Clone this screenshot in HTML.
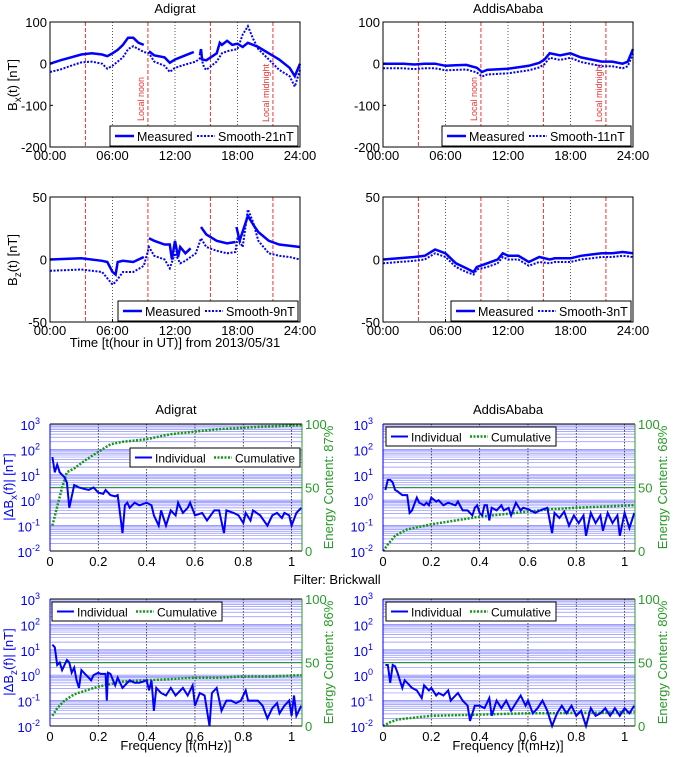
<!DOCTYPE html>
<html><head><meta charset="utf-8"><style>
html,body{margin:0;padding:0;background:#fff;}
svg{display:block;font-family:"Liberation Sans",sans-serif;}
</style></head><body>
<svg id="fig" width="675" height="757" viewBox="0 0 675 757" xmlns="http://www.w3.org/2000/svg"></svg>
<script>
// ---------- Time-series data ----------
const adgBxT = [0,1,2,3,4,5,5.5,6,6.5,7,7.5,8,8.5,9,NaN,9.5,10,11,11.5,12,13,13.8,NaN,14.4,14.5,14.6,15,16,16.3,16.5,17,17.5,18,18.5,19,19.5,20,21,22,23,23.5,24];
const adgBxM = [0,8,15,22,25,22,18,25,33,45,62,62,50,45,NaN,30,20,15,2,10,20,28,NaN,20,35,10,8,25,50,45,55,45,48,40,50,45,40,25,10,-10,-30,0];
const adgBxST = [0,1,2,3,4,5,5.5,6,7,7.5,8,9,9.5,10,11,11.5,12,13,14,14.5,14.8,15,16,16.5,17,18,18.5,19,19.5,20,21,22,23,23.5,24];
const adgBxS = [-20,-14,-5,3,5,0,-12,-5,15,35,42,28,25,5,-5,-20,-10,-2,5,15,-10,-15,5,25,30,35,70,90,60,35,10,-15,-30,-55,-15];

const adgBzT = [0,3,5,5.5,6,6.3,6.5,7,8,9,NaN,9.5,10,11,11.5,11.7,12,12.3,12.5,13,13.5,NaN,14.5,15,16,17,17.8,NaN,17.9,18.2,19,19.5,20,21,22,23,24];
const adgBzM = [0,1,-1,-2,-10,-12,-2,-1,-2,2,NaN,17,15,12,12,0,15,2,10,5,9,NaN,26,20,15,13,14,NaN,26,15,35,28,22,15,12,11,10];
const adgBzST = [0,3,5,6,6.3,7,8,9,9.5,10,11,11.5,12,12.5,13,14,14.5,15,16,17,17.8,18,18.5,19,19.5,20,21,22,23,24];
const adgBzS = [-9,-8,-10,-20,-18,-10,-10,-5,10,3,0,-7,5,-3,-1,5,17,10,7,5,6,18,10,40,30,15,5,3,2,0];

const addBxT = [0,2,3,4,5,6,7,8,9,9.5,10,12,14,15,15.5,16,17,18,19,20,21,22,23,23.5,24];
const addBxM = [0,0,-2,0,0,-5,-4,-3,-10,-20,-15,-12,-5,2,10,25,20,25,15,10,5,5,0,5,35];
const addBxS = [-11,-11,-13,-11,-11,-16,-15,-14,-21,-31,-26,-23,-16,-9,-1,14,9,14,4,-1,-6,-6,-11,-6,24];

const addBzT = [0,3,4,5,6,7,8,8.7,9,10,11,11.5,12,13,14,15,16,16.5,18,19,20,21,22,23,24];
const addBzM = [0,2,3,8,5,-3,-7,-10,-6,-3,0,5,3,3,-2,2,0,1,1,3,4,5,5,6,5];
const addBzS = [-3,-1,0,5,2,-6,-10,-12,-8,-6,-3,2,0,0,-5,-2,-3,-2,-2,0,1,2,2,3,2];

const timeTicks = [0,6,12,18,24];
const timeTickLabels = ["00:00","06:00","12:00","18:00","24:00"];
const bxTicks = [-200,-100,0,100];
const bzTicks = [-50,0,50];
const localLines = [3.4,9.4,15.4,21.4];
const hourLines = [6,12,18];

// ---------- Spectra data ----------
const adgXf = [0.01,0.02,0.03,0.04,0.05,0.06,0.07,0.08,0.1,0.12,0.14,0.16,0.18,0.2,0.22,0.23,0.25,0.27,0.28,0.3,0.31,0.32,0.33,0.35,0.37,0.4,0.42,0.43,0.45,0.46,0.48,0.5,0.52,0.53,0.55,0.57,0.58,0.6,0.63,0.65,0.68,0.7,0.72,0.73,0.76,0.78,0.8,0.81,0.83,0.84,0.87,0.9,0.92,0.94,0.96,0.97,0.99,1.0,1.02,1.04];
const adgXv = [1.7,1.1,1.4,1.1,1.0,0.9,0.7,-0.3,0.6,0.5,0.45,0.4,0.5,0.3,0.25,0.4,0.2,0.15,0.2,-1.3,-0.2,-0.1,-0.3,-0.1,-0.2,-0.1,-0.2,-0.6,-1.0,-0.4,-1.0,-0.4,-0.6,-0.1,-0.5,-0.3,-0.1,-0.6,-0.5,-0.8,-0.4,-0.4,-1.3,-0.4,-0.5,-0.6,-0.9,-0.5,-0.8,-0.4,-0.6,-1.0,-0.6,-0.5,-0.7,-0.5,-0.6,-1.0,-0.5,-0.3];
const adgXcf = [0.01,0.03,0.05,0.07,0.1,0.15,0.2,0.25,0.3,0.4,0.5,0.6,0.7,0.8,0.9,1.04];
const adgXc = [20,35,50,62,65,72,78,84,86,88,92,94,96,97,98,99];

const addXf = [0.01,0.02,0.03,0.04,0.05,0.06,0.08,0.1,0.11,0.12,0.14,0.15,0.17,0.18,0.19,0.2,0.22,0.23,0.25,0.27,0.3,0.31,0.33,0.35,0.37,0.38,0.39,0.4,0.41,0.42,0.43,0.44,0.45,0.47,0.49,0.5,0.52,0.53,0.55,0.57,0.58,0.6,0.63,0.65,0.68,0.7,0.71,0.73,0.75,0.77,0.79,0.81,0.83,0.84,0.86,0.88,0.9,0.91,0.93,0.95,0.97,0.98,1.0,1.02,1.04];
const addXv = [0.4,0.8,0.8,0.7,0.4,0.35,0.2,0.2,-0.5,-0.4,0.1,-0.1,-0.2,-0.1,-0.2,0.1,-0.05,0.0,-0.2,-0.1,-0.2,-0.05,-0.4,-0.4,-0.6,-0.3,-0.2,-0.5,-0.6,-0.2,-0.2,-0.8,-0.3,-0.4,-0.2,-0.4,-0.3,-0.6,-0.1,-0.4,-0.3,-0.35,-0.5,-0.4,-0.3,-1.3,-0.5,-0.7,-0.45,-1.0,-0.6,-0.9,-0.6,-1.4,-0.5,-0.9,-0.6,-1.2,-0.5,-0.9,-0.6,-1.4,-0.5,-1.1,-0.5];
const addXcf = [0,0.02,0.05,0.1,0.15,0.2,0.3,0.4,0.5,0.6,0.7,0.8,0.9,1.04];
const addXc = [0,5,12,17,19,21,24,27,29,31,33,34,35,36];

const adgZf = [0.01,0.02,0.03,0.04,0.05,0.06,0.07,0.08,0.09,0.1,0.11,0.12,0.13,0.14,0.16,0.17,0.18,0.2,0.21,0.23,0.235,0.24,0.25,0.27,0.28,0.3,0.32,0.33,0.35,0.37,0.4,0.41,0.42,0.43,0.44,0.46,0.48,0.5,0.52,0.55,0.57,0.59,0.6,0.62,0.64,0.66,0.67,0.69,0.71,0.73,0.75,0.77,0.79,0.81,0.82,0.84,0.86,0.88,0.9,0.92,0.94,0.95,0.97,0.99,1.0,1.01,1.02,1.04];
const adgZv = [1.2,1.1,0.4,0.5,0.2,0.4,0.6,0.5,0.1,0.3,-0.2,-0.5,0.2,0.1,-0.1,-0.2,0.0,0.1,0.05,0.05,-1.0,0.1,0.05,-0.4,-0.1,-0.5,-0.3,-0.2,-0.3,-0.3,-0.2,-0.6,-0.2,-1.4,-0.5,-0.7,-0.8,-0.5,-0.8,-0.5,-0.8,-0.4,-1.2,-0.7,-0.8,-2.0,-0.7,-0.5,-1.4,-1.0,-1.0,-1.1,-1.0,-0.6,-1.0,-1.0,-1.0,-1.2,-1.7,-1.3,-1.1,-1.5,-1.2,-1.0,-1.6,-0.8,-1.6,-1.2];
const adgZcf = [0.01,0.03,0.06,0.1,0.15,0.2,0.25,0.3,0.4,0.5,0.6,0.7,0.8,0.9,1.04];
const adgZc = [8,14,20,25,28,31,33,35,36,37,38,38,39,39,40];

const addZf = [0.01,0.02,0.03,0.04,0.05,0.06,0.08,0.09,0.1,0.12,0.14,0.16,0.17,0.19,0.2,0.22,0.23,0.25,0.27,0.28,0.3,0.31,0.33,0.35,0.36,0.38,0.4,0.42,0.44,0.45,0.47,0.49,0.51,0.53,0.55,0.57,0.59,0.6,0.62,0.64,0.66,0.68,0.7,0.72,0.74,0.76,0.78,0.8,0.82,0.84,0.86,0.88,0.9,0.92,0.94,0.96,0.98,1.0,1.02,1.04];
const addZv = [0.4,0.4,-0.3,0.4,0.35,0.1,-0.5,-0.2,-0.3,-0.5,-0.6,-0.9,-0.4,-0.6,-0.5,-0.8,-0.7,-0.8,-0.6,-1.0,-0.8,-0.7,-1.0,-1.2,-1.8,-1.2,-1.2,-1.3,-0.9,-1.6,-1.0,-1.3,-1.0,-1.4,-1.1,-0.8,-1.2,-1.0,-1.5,-1.3,-1.0,-1.4,-2.0,-1.5,-1.2,-1.5,-1.2,-1.6,-1.4,-2.0,-1.3,-1.6,-1.5,-1.3,-1.6,-1.3,-1.6,-1.3,-1.5,-1.2];
const addZcf = [0,0.03,0.06,0.1,0.15,0.2,0.3,0.4,0.5,0.6,0.7,0.8,0.9,1.04];
const addZc = [0,3,5,6,7,8,8.5,9,9.5,10,10,10.5,10.5,11];

const freqTicks = [0,0.2,0.4,0.6,0.8,1];
const freqTickLabels = ["0","0.2","0.4","0.6","0.8","1"];
const logTicks = [-2,-1,0,1,2,3];
const energyTicks = [0,50,100];

// ---------- helpers ----------
const NS = "http://www.w3.org/2000/svg";
const svg = document.getElementById("fig");
function mk(tag, attrs, parent, text){
  const e = document.createElementNS(NS, tag);
  for (const k in attrs) e.setAttribute(k, attrs[k]);
  if (text !== undefined) e.textContent = text;
  (parent || svg).appendChild(e);
  return e;
}
function pathD(xs, ys, sx, sy){
  let d = "", pen = false;
  for (let i = 0; i < xs.length; i++){
    if (isNaN(xs[i]) || isNaN(ys[i])) { pen = false; continue; }
    d += (pen ? "L" : "M") + sx(xs[i]).toFixed(1) + "," + sy(ys[i]).toFixed(1);
    pen = true;
  }
  return d;
}

function timePanel(x0, x1, y0, y1, ymin, ymax, yTicks, mT, mV, sT, sV, legendLabel, leg, name, showLocalText){
  const g = mk("g", {});
  
  
  const sx = t => x0 + (t / 24) * (x1 - x0);
  const sy = v => y1 - (v - ymin) / (ymax - ymin) * (y1 - y0);
  localLines.forEach(t => {
    const l = mk("line", {x1: sx(t), x2: sx(t), y1: y0, y2: y1, stroke: "#e33", "stroke-width": 1, "stroke-dasharray": "4,2"}, g);
    
    
  });
  hourLines.forEach(t => {
    const l = mk("line", {x1: sx(t), x2: sx(t), y1: y0, y2: y1, stroke: "#333", "stroke-width": 0.8, "stroke-dasharray": "1,2"}, g);
    
    
  });
  if (showLocalText){
    const tn = mk("text", {x: 0, y: 0, transform: `translate(${sx(localLines[1]) - 4},${y0 + 99}) rotate(-90)`, "font-size": 9, fill: "#e33"}, g, "Local noon");
    
    
    const tm = mk("text", {x: 0, y: 0, transform: `translate(${sx(localLines[3]) - 4},${y0 + 100}) rotate(-90)`, "font-size": 9, fill: "#e33"}, g, "Local midnight");
    
    
  }
  const ps = mk("path", {d: pathD(sT, sV, sx, sy), fill: "none", stroke: "#0000ff", "stroke-width": 2, "stroke-dasharray": "2,1.5"}, g);
  
  
  const pm = mk("path", {d: pathD(mT, mV, sx, sy), fill: "none", stroke: "#0000ff", "stroke-width": 2.5}, g);
  
  
  const fr = mk("rect", {x: x0, y: y0, width: x1 - x0, height: y1 - y0, fill: "none", stroke: "#000", "stroke-width": 1}, g);
  
  
  timeTicks.forEach((t, i) => {
    mk("line", {x1: sx(t), x2: sx(t), y1: y1, y2: y1 - 3, stroke: "#000"}, g);
    const tl = mk("text", {x: sx(t), y: y1 + 13, "font-size": 13, "text-anchor": "middle"}, g, timeTickLabels[i]);
    
    
  });
  yTicks.forEach(v => {
    mk("line", {x1: x0, x2: x0 + 3, y1: sy(v), y2: sy(v), stroke: "#000"}, g);
    const tl = mk("text", {x: x0 - 3, y: sy(v) + 5, "font-size": 13, "text-anchor": "end"}, g, String(v));
    
    
  });
  const lg = mk("g", {}, g);
  
  
  mk("rect", {x: leg[0], y: leg[1], width: leg[2], height: 20, fill: "#fff", stroke: "#000", "stroke-width": 1}, lg);
  mk("line", {x1: leg[0] + 5, x2: leg[0] + 24, y1: leg[1] + 10, y2: leg[1] + 10, stroke: "#0000ff", "stroke-width": 2.5}, lg);
  const t1 = mk("text", {x: leg[0] + 27, y: leg[1] + 15, "font-size": 12.5}, lg, "Measured");
  
  
  mk("line", {x1: leg[0] + 87, x2: leg[0] + 105, y1: leg[1] + 10, y2: leg[1] + 10, stroke: "#0000ff", "stroke-width": 2, "stroke-dasharray": "2,1.5"}, lg);
  const t2 = mk("text", {x: leg[0] + 108, y: leg[1] + 15, "font-size": 12.5}, lg, legendLabel);
  
  
}

function freqPanel(x0, x1, y0, y1, f, v, cf, cv, leg, name, energyLabel, eX){
  const g = mk("g", {});
  
  
  const fmax = 1.043;
  const sx = q => x0 + (q / fmax) * (x1 - x0);
  const sy = l => y1 - (l + 2) / 5 * (y1 - y0);
  const se = e => y1 - e / 100 * (y1 - y0);
  for (let d = -2; d < 3; d++){
    for (let k = 1; k <= 9; k++){
      const yy = sy(d + Math.log10(k));
      mk("line", {x1: x0, x2: x1, y1: yy, y2: yy, stroke: "#6a6aff", "stroke-width": k === 1 ? 0.9 : 0.7, "stroke-opacity": 0.75}, g);
    }
  }
  freqTicks.slice(1).forEach(q => {
    mk("line", {x1: sx(q), x2: sx(q), y1: y0, y2: y1, stroke: "#222", "stroke-width": 0.8, "stroke-dasharray": "1.5,1.5"}, g);
  });
  const gl = mk("line", {x1: x0, x2: x1, y1: se(50), y2: se(50), stroke: "#2a9a2a", "stroke-width": 1}, g);
  
  
  const pc = mk("path", {d: pathD(cf, cv, sx, se), fill: "none", stroke: "#119911", "stroke-width": 2.5, "stroke-dasharray": "2,1.5"}, g);
  
  
  const pi = mk("path", {d: pathD(f, v, sx, sy), fill: "none", stroke: "#0000ff", "stroke-width": 2}, g);
  
  
  mk("line", {x1: x0, x2: x1, y1: y0, y2: y0, stroke: "#000"}, g);
  mk("line", {x1: x0, x2: x1, y1: y1, y2: y1, stroke: "#000"}, g);
  mk("line", {x1: x0, x2: x0, y1: y0, y2: y1, stroke: "#0000ff"}, g);
  mk("line", {x1: x1, x2: x1, y1: y0, y2: y1, stroke: "#2a9a2a"}, g);
  freqTicks.forEach((q, i) => {
    const tl = mk("text", {x: sx(q), y: y1 + 15, "font-size": 13, "text-anchor": "middle"}, g, freqTickLabels[i]);
    
    
  });
  logTicks.forEach(l => {
    const tl = mk("text", {x: x0 - 10, y: sy(l) + 6, "font-size": 13, "text-anchor": "end", fill: "#0000ff"}, g, "10");
    mk("tspan", {dy: -6, "font-size": 9}, tl, String(l));
    
    
  });
  energyTicks.forEach(e => {
    const tl = mk("text", {x: x1 + 3, y: se(e) + 5, "font-size": 13, fill: "#2a9a2a"}, g, String(e));
    
    
  });
  const el = mk("text", {x: 0, y: 0, transform: `translate(${eX},${(y0 + y1) / 2}) rotate(-90)`, "font-size": 13, fill: "#2a9a2a", "text-anchor": "middle"}, g, energyLabel);
  
  
  const lg = mk("g", {}, g);
  
  
  mk("rect", {x: leg[0], y: leg[1], width: 170, height: 19, fill: "#fff", stroke: "#000", "stroke-width": 1}, lg);
  mk("line", {x1: leg[0] + 5, x2: leg[0] + 22, y1: leg[1] + 9.5, y2: leg[1] + 9.5, stroke: "#0000ff", "stroke-width": 2}, lg);
  const t1 = mk("text", {x: leg[0] + 25, y: leg[1] + 14.5, "font-size": 12}, lg, "Individual");
  
  
  mk("line", {x1: leg[0] + 84, x2: leg[0] + 102, y1: leg[1] + 9.5, y2: leg[1] + 9.5, stroke: "#119911", "stroke-width": 2.5, "stroke-dasharray": "2,1.5"}, lg);
  const t2 = mk("text", {x: leg[0] + 105, y: leg[1] + 14.5, "font-size": 12}, lg, "Cumulative");
  
  
}

function label(x, y, txt, name, opts){
  const t = mk("text", Object.assign({x: x, y: y, "font-size": 13, "text-anchor": "middle"}, opts || {}), svg, txt);
  
  
  return t;
}

// ---------- build ----------
label(175, 13, "Adigrat", "title-adigrat-time");
label(508, 13, "AddisAbaba", "title-addisababa-time");
timePanel(50, 300, 22, 147, -200, 100, bxTicks, adgBxT, adgBxM, adgBxST, adgBxS, "Smooth-21nT", [110, 126, 188], "adigrat-bx-panel", true);
timePanel(383, 633, 22, 147, -200, 100, bxTicks, addBxT, addBxM, addBxT, addBxS, "Smooth-11nT", [442, 126, 189], "addisababa-bx-panel", true);
timePanel(50, 300, 197, 322, -50, 50, bzTicks, adgBzT, adgBzM, adgBzST, adgBzS, "Smooth-9nT", [118, 301, 180], "adigrat-bz-panel", false);
timePanel(383, 633, 197, 322, -50, 50, bzTicks, addBzT, addBzM, addBzT, addBzS, "Smooth-3nT", [451, 301, 180], "addisababa-bz-panel", false);

let yl = label(0, 0, "", "y-axis-title-bx", {transform: "translate(17,85) rotate(-90)"});
yl.appendChild(document.createTextNode("B"));
mk("tspan", {dy: 4, "font-size": 10}, yl, "x");
mk("tspan", {dy: -4}, yl, "(t) [nT]");
yl = label(0, 0, "", "y-axis-title-bz", {transform: "translate(17,260) rotate(-90)"});
yl.appendChild(document.createTextNode("B"));
mk("tspan", {dy: 4, "font-size": 10}, yl, "z");
mk("tspan", {dy: -4}, yl, "(t) [nT]");
label(175, 347, "Time [t(hour in UT)] from 2013/05/31", "x-axis-title-time");

label(176, 414, "Adigrat", "title-adigrat-freq");
label(508, 414, "AddisAbaba", "title-addisababa-freq");
freqPanel(50, 302, 424, 551, adgXf, adgXv, adgXcf, adgXc, [130, 448], "adigrat-x-spectrum", "Energy Content: 87%", 333);
freqPanel(383, 635, 424, 551, addXf, addXv, addXcf, addXc, [386, 427], "addisababa-x-spectrum", "Energy Content: 68%", 667);
label(337, 584, "Filter: Brickwall", "filter-label");
freqPanel(50, 302, 599, 726, adgZf, adgZv, adgZcf, adgZc, [52, 602], "adigrat-z-spectrum", "Energy Content: 86%", 333);
freqPanel(383, 635, 599, 726, addZf, addZv, addZcf, addZc, [386, 602], "addisababa-z-spectrum", "Energy Content: 80%", 667);

yl = label(0, 0, "", "y-axis-title-dbx", {transform: "translate(13,487) rotate(-90)", fill: "#0000ff"});
yl.appendChild(document.createTextNode("|ΔB"));
mk("tspan", {dy: 4, "font-size": 10}, yl, "x");
mk("tspan", {dy: -4}, yl, "(f)| [nT]");
yl = label(0, 0, "", "y-axis-title-dbz", {transform: "translate(13,662) rotate(-90)", fill: "#0000ff"});
yl.appendChild(document.createTextNode("|ΔB"));
mk("tspan", {dy: 4, "font-size": 10}, yl, "z");
mk("tspan", {dy: -4}, yl, "(f)| [nT]");
label(176, 750, "Frequency [f(mHz)]", "x-axis-title-freq-left");
label(508, 750, "Frequency [f(mHz)]", "x-axis-title-freq-right");
</script>
</body></html>
